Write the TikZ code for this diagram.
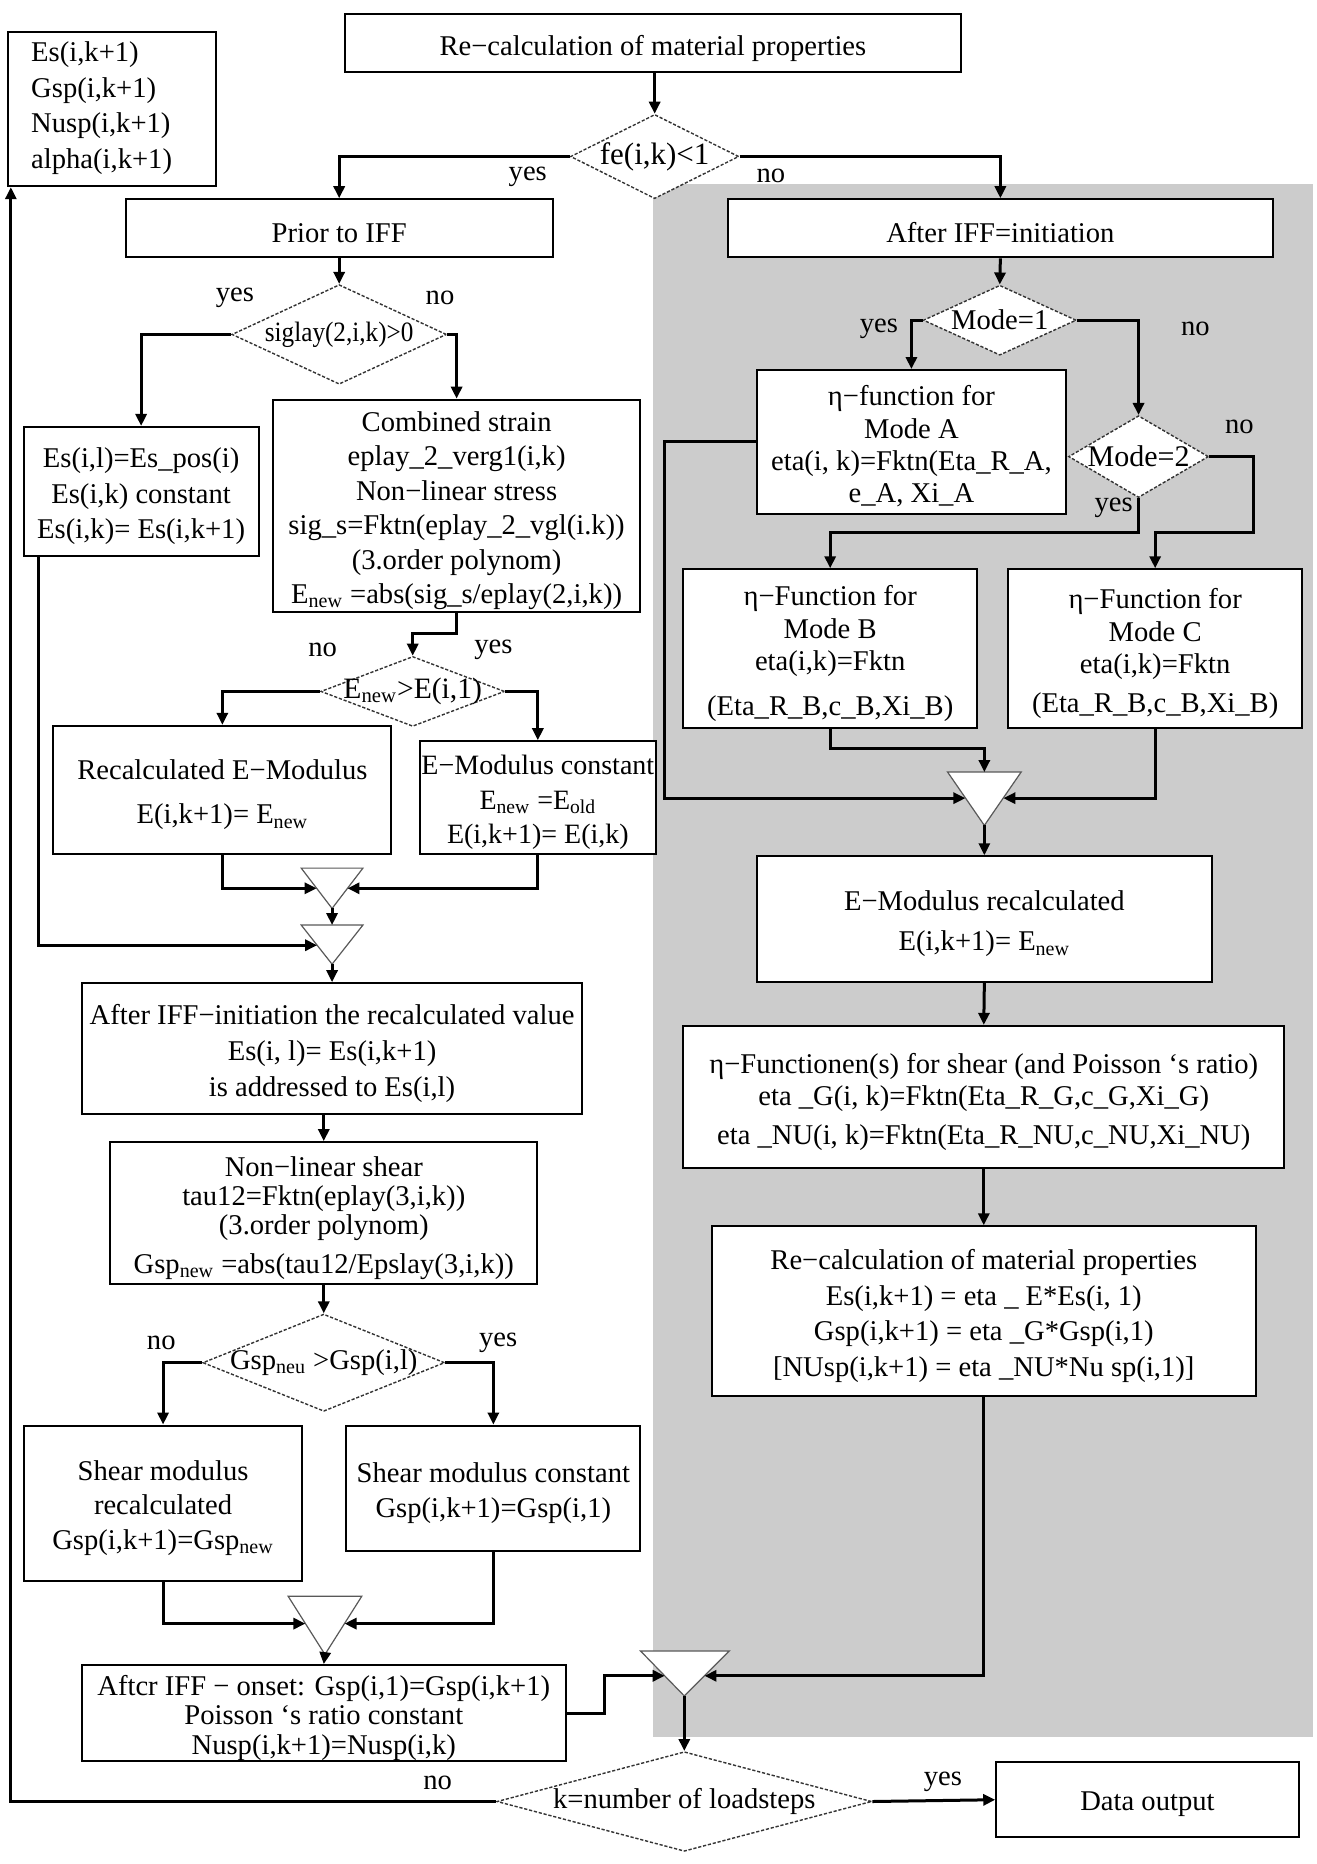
\documentclass[tikz,border=0pt]{standalone}
\usepackage{fontspec}
\setmainfont{Liberation Serif}
\newfontfamily\condfont[FakeStretch=0.9]{Liberation Serif}
\usetikzlibrary{arrows.meta,calc,shapes.geometric}
\newcommand\pu{0.593pt}
\definecolor{greybg}{RGB}{204,204,204}
\tikzset{
  every node/.style={font=\fontsize{14.3}{17.2}\selectfont},
  box/.style={draw=black, line width=1pt, fill=white, inner sep=0pt},
  boxtxt/.style={inner sep=0pt, align=center},
  corners/.style n args={4}{at={({(#1+#3)/2},{(#2+#4)/2})}, minimum width={(#3-#1)*\pu}, minimum height={(#4-#2)*\pu}},
  dia/.style={diamond, draw=black!80, line width=0.7pt, dash pattern=on 1.6pt off 0.9pt, fill=white, inner sep=0pt},
  tri/.style={draw=black!65, line width=0.6pt, fill=white},
  con/.style={line width=1.5pt, draw=black},
  arr/.style={con, -{Triangle[length=6pt,width=5.5pt]}},
  lab/.style={inner sep=0pt}
}
% \boxnode[text options]{name}{x1}{y1}{x2}{y2}{text}
\newcommand\boxnode[7][]{%
  \node[box, corners={#3}{#4}{#5}{#6}] (#2) {};
  \node[boxtxt, #1] (#2t) at ($(#2.center)+(0,4)$) {#7};
}
\begin{document}
\begin{tikzpicture}[x=0.593pt,y=-0.593pt]
\useasboundingbox (0,0) rectangle (1110,1571.7);
\fill[greybg] (551,155) rectangle (1107,1465);

% ---------- boxes ----------
\boxnode{top}{291}{12}{810}{61}{Re−calculation of material properties}
\node[box, corners={7}{27}{182}{157}] (esk) {};
\node[lab, anchor=west, align=left, font=\fontsize{14.3}{17.8}\selectfont] (eskt) at (26,91) {Es(i,k+1)\\Gsp(i,k+1)\\Nusp(i,k+1)\\alpha(i,k+1)};
\boxnode{prior}{106}{168}{466}{217}{Prior to IFF}
\boxnode{after}{614}{168}{1073}{217}{After IFF=initiation}
\boxnode[font=\fontsize{14.3}{17.8}\selectfont]{esl}{20}{360}{218}{469}{Es(i,l)=Es\_pos(i)\\Es(i,k) constant\\Es(i,k)= Es(i,k+1)}
\boxnode{comb}{230}{337}{540}{516}{Combined strain\\eplay\_2\_verg1(i,k)\\Non−linear stress\\sig\_s=Fktn(eplay\_2\_vgl(i.k))\\(3.order polynom)\\E\textsubscript{new} =abs(sig\_s/eplay(2,i,k))}
\boxnode[font=\fontsize{14.3}{16.2}\selectfont]{etaA}{638}{312}{899}{433}{η−function for\\Mode A\\eta(i, k)=Fktn(Eta\_R\_A,\\e\_A, Xi\_A}
\boxnode[font=\fontsize{14.3}{16.4}\selectfont]{boxB}{576}{480}{824}{614}{η−Function for\\Mode B\\eta(i,k)=Fktn\\[6pt](Eta\_R\_B,c\_B,Xi\_B)}
\boxnode[font=\fontsize{14.3}{16.4}\selectfont]{boxC}{850}{480}{1098}{614}{η−Function for\\Mode C\\eta(i,k)=Fktn\\[3pt](Eta\_R\_B,c\_B,Xi\_B)}
\boxnode{recalc}{45}{612}{330}{720}{Recalculated E−Modulus\\[5pt]E(i,k+1)= E\textsubscript{new}}
\boxnode[font=\fontsize{14}{17.2}\selectfont]{emc}{354}{625}{553}{720}{E−Modulus constant\\E\textsubscript{new} =E\textsubscript{old}\\E(i,k+1)= E(i,k)}
\boxnode{emr}{638}{722}{1022}{828}{E−Modulus recalculated\\[3pt]E(i,k+1)= E\textsubscript{new}}
\boxnode[font=\fontsize{14.3}{18}\selectfont]{air}{69}{829}{491}{939}{After IFF−initiation the recalculated value\\Es(i, l)= Es(i,k+1)\\is addressed to Es(i,l)}
\boxnode[font=\fontsize{14.3}{16.2}\selectfont]{etaF}{576}{865}{1083}{985}{η−Functionen(s) for shear (and Poisson ‘s ratio)\\eta \_G(i, k)=Fktn(Eta\_R\_G,c\_G,Xi\_G)\\[3pt]eta \_NU(i, k)=Fktn(Eta\_R\_NU,c\_NU,Xi\_NU)}
\boxnode[font=\fontsize{14.3}{14.5}\selectfont]{nls}{93}{963}{453}{1083}{Non−linear shear\\tau12=Fktn(eplay(3,i,k))\\(3.order polynom)\\[5pt]Gsp\textsubscript{new} =abs(tau12/Epslay(3,i,k))}
\boxnode[font=\fontsize{14.3}{17.8}\selectfont]{rc2}{600}{1034}{1059}{1177}{Re−calculation of material properties\\Es(i,k+1) = eta \_ E*Es(i, 1)\\Gsp(i,k+1) = eta \_G*Gsp(i,1)\\{[}NUsp(i,k+1) = eta \_NU*Nu sp(i,1){]}}
\boxnode{shr}{20}{1202}{255}{1333}{Shear modulus\\recalculated\\Gsp(i,k+1)=Gsp\textsubscript{new}}
\boxnode{shc}{292}{1202}{540}{1308}{Shear modulus constant\\Gsp(i,k+1)=Gsp(i,1)}
\boxnode[font=\fontsize{14.3}{14.8}\selectfont]{aft}{69}{1404}{477}{1485}{Aftcr IFF − onset: Gsp(i,1)=Gsp(i,k+1)\\Poisson ‘s ratio constant\\Nusp(i,k+1)=Nusp(i,k)}
\boxnode{data}{840}{1486}{1095}{1549}{Data output}

% ---------- diamonds ----------
\node[dia, minimum width=142*\pu, minimum height=71*\pu] (fe) at (552,132) {};
\node[lab, font=\fontsize{15.5}{17}\selectfont] (fet) at (fe) {fe(i,k)<1};
\node[dia, minimum width=181*\pu, minimum height=84*\pu] (sig) at (286,282) {};
\node[lab, font=\condfont\fontsize{14}{17}\selectfont] (sigt) at (sig) {siglay(2,i,k)>0};
\node[dia, minimum width=129*\pu, minimum height=59*\pu] (m1) at (843,270) {};
\node[lab, font=\fontsize{14.3}{17}\selectfont] (m1t) at (m1) {Mode=1};
\node[dia, minimum width=118*\pu, minimum height=69*\pu] (m2) at (960,385) {};
\node[lab, font=\fontsize{15}{17}\selectfont] (m2t) at (m2) {Mode=2};
\node[dia, minimum width=155*\pu, minimum height=59*\pu] (enew) at (348,583) {};
\node[lab, font=\fontsize{14.8}{17}\selectfont] (enewt) at (enew) {E\textsubscript{new}>E(i,1)};
\node[dia, minimum width=204*\pu, minimum height=82*\pu] (gsp) at (273,1149) {};
\node[lab] (gspt) at (gsp) {Gsp\textsubscript{neu} >Gsp(i,l)};
\node[dia, minimum width=316*\pu, minimum height=84*\pu] (kd) at (577,1519) {};
\node[lab] (kdt) at (kd) {k=number of loadsteps};

% ---------- merge triangles ----------
\coordinate (trT) at (830,651); \coordinate (trA) at (830,696);
\coordinate (trL) at (814,673); \coordinate (trR) at (846,673);
\draw[tri] (799,651) -- (861,651) -- (trA) -- cycle;
\coordinate (t1T) at (280,732); \coordinate (t1A) at (280,766);
\coordinate (t1L) at (267,749); \coordinate (t1R) at (293,749);
\draw[tri] (254,732) -- (306,732) -- (t1A) -- cycle;
\coordinate (t2T) at (280,780); \coordinate (t2A) at (280,813);
\coordinate (t2L) at (267.4,797); \coordinate (t2R) at (292.6,797);
\draw[tri] (254,780) -- (306,780) -- (t2A) -- cycle;
\coordinate (t3T) at (274,1346); \coordinate (t3A) at (274,1395);
\coordinate (t3L) at (257.5,1369); \coordinate (t3R) at (290.5,1369);
\draw[tri] (243,1346) -- (305,1346) -- (t3A) -- cycle;
\coordinate (t4T) at (577,1392); \coordinate (t4A) at (577,1430);
\coordinate (t4L) at (560.5,1413); \coordinate (t4R) at (594,1413);
\draw[tri] (540,1392) -- (615,1392) -- (t4A) -- cycle;

% ---------- connectors ----------
\draw[arr] (top.south -| fe.north) -- (fe.north);
\draw[arr] (fe.west) -| (prior.north);
\draw[arr] (fe.east) -| (after.north);
\draw[arr] (prior.south) -- (sig.north);
\draw[arr] (sig.west) -| (esl.north);
\draw[arr] (sig.east) -| (comb.north);
\draw[arr] (after.south) -- (m1.north);
\draw[arr] (m1.west) -| (etaA.north);
\draw[arr] (m1.east) -| (m2.north);
\draw[arr] (m2.south) |- ($(boxB.north)+(0,-30)$) -- (boxB.north);
\draw[arr] (m2.east) -| ($(boxC.north)+(83,-30)$) -| (boxC.north);
\draw[arr] (etaA.west) -| ($(etaA.west)+(-77,0)$) |- (trL);
\draw[arr] (boxB.south) |- ($(trT)+(0,-20)$) -- (trT);
\draw[arr] (boxC.south) |- (trR);
\draw[arr] (trA) -- (emr.north);
\draw[arr] (emr.south) -- (etaF.north);
\draw[arr] (etaF.south) -- (rc2.north);
\draw[arr] (rc2.south) |- (t4R);
\draw[arr] (aft.east) -- ++(32,0) |- (t4L);
\draw[arr] (t4A) -- (kd.north);
\draw[arr] (kd.east) -- (data.west);
\draw[arr] (kd.west) -| ($(esk.south west)+(3,0)$);
\draw[arr] (comb.south) |- ($(enew.north)+(0,-19)$) -- (enew.north);
\draw[arr] (enew.west) -| (recalc.north);
\draw[arr] (enew.east) -| (emc.north);
\draw[arr] (recalc.south) |- (t1L);
\draw[arr] (emc.south) |- (t1R);
\draw[arr] (t1A) -- (t2T);
\draw[arr] ($(esl.south west)+(13,0)$) |- (t2L);
\draw[arr] (t2A) -- (air.north);
\draw[arr] (air.south -| nls.north) -- (nls.north);
\draw[arr] (nls.south) -- (gsp.north);
\draw[arr] (gsp.west) -| (shr.north);
\draw[arr] (gsp.east) -| (shc.north);
\draw[arr] (shr.south) |- (t3L);
\draw[arr] (shc.south) |- (t3R);
\draw[arr] (t3A) -- (aft.north);

% ---------- labels ----------
\node[lab] (l1) at (445,149) {yes};
\node[lab] (l2) at (650,148) {no};
\node[lab] (l3) at (198,251) {yes};
\node[lab] (l4) at (371,251) {no};
\node[lab] (l5) at (741,277) {yes};
\node[lab] (l6) at (1008,277) {no};
\node[lab] (l7) at (1045,360) {no};
\node[lab] (l8) at (939,428) {yes};
\node[lab] (l9) at (272,548) {no};
\node[lab] (l10) at (416,548) {yes};
\node[lab] (l11) at (136,1132) {no};
\node[lab] (l12) at (420,1132) {yes};
\node[lab] (l13) at (369,1503) {no};
\node[lab] (l14) at (795,1502) {yes};
\end{tikzpicture}
\end{document}
